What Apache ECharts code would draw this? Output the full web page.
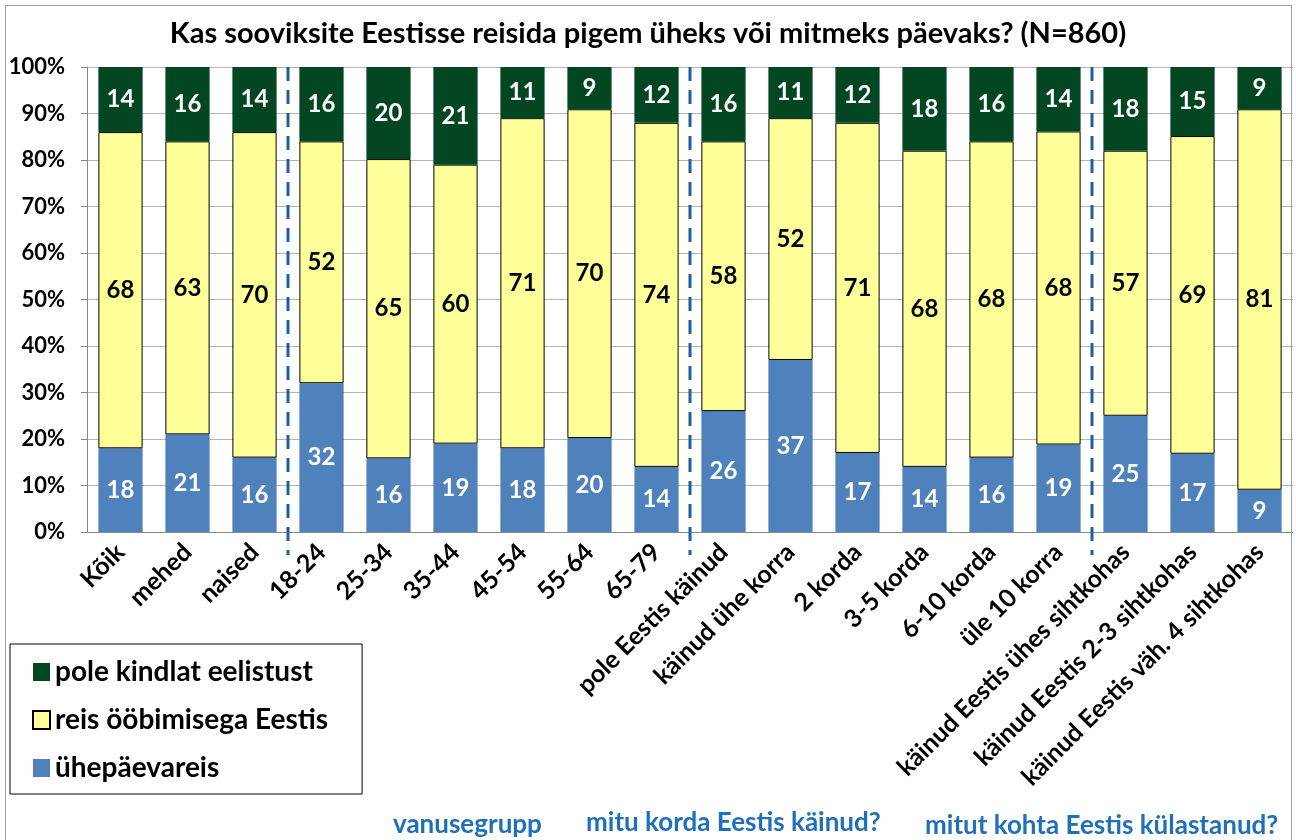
<!DOCTYPE html>
<html>
<head>
<meta charset="utf-8">
<script src="https://cdn.jsdelivr.net/npm/echarts@6/dist/echarts.min.js"></script>
<style>
  html, body { margin: 0; padding: 0; background: #fff; }
  #chart { width: 1296px; height: 840px; }
  #frame { position: absolute; left: 5px; top: 5px; width: 1287px; height: 850px;
           border: 1px solid #a0a0a0; box-sizing: border-box; pointer-events: none; }
</style>
</head>
<body>
<div id="chart"></div>
<div id="frame"></div>
<script>
const categories = [
  "Kõik", "mehed", "naised",
  "18-24", "25-34", "35-44", "45-54", "55-64", "65-79",
  "pole Eestis käinud", "käinud ühe korra", "2 korda", "3-5 korda", "6-10 korda", "üle 10 korra",
  "käinud Eestis ühes sihtkohas", "käinud Eestis 2-3 sihtkohas", "käinud Eestis väh. 4 sihtkohas"
];
// ühepäevareis
const dayTrip = [18, 21, 16, 32, 16, 19, 18, 20, 14, 26, 37, 17, 14, 16, 19, 25, 17, 9];
// reis ööbimisega Eestis
const overnight = [68, 63, 70, 52, 65, 60, 71, 70, 74, 58, 52, 71, 68, 68, 68, 57, 69, 81];
// pole kindlat eelistust
const noPref = [14, 16, 14, 16, 20, 21, 11, 9, 12, 16, 11, 12, 18, 16, 14, 18, 15, 9];

// dashed separators sit between these category indexes
const groupBreaks = [3, 9, 15];
const groupNames = ["vanusegrupp", "mitu korda Eestis käinud?", "mitut kohta Eestis külastanud?"];

const FONT = "Lato";

// 100% stacked, like the original spreadsheet chart
const totals = categories.map((c, i) => dayTrip[i] + overnight[i] + noPref[i]);
const share = arr => arr.map((v, i) => v / totals[i] * 100);

function makeSeries(name, raw, color, textColor, border) {
  return {
    name: name,
    type: "bar",
    stack: "all",
    barWidth: "66%",
    data: share(raw),
    itemStyle: {
      color: color,
      borderColor: border ? "#000" : color,
      borderWidth: border ? 1 : 0
    },
    label: {
      show: true,
      position: "inside",
      color: textColor,
      fontFamily: FONT,
      fontWeight: "bold",
      fontSize: 24,
      formatter: p => raw[p.dataIndex]
    }
  };
}

const chart = echarts.init(document.getElementById("chart"));
chart.setOption({
  animation: false,
  title: {
    text: "Kas sooviksite Eestisse reisida pigem üheks või mitmeks päevaks? (N=860)",
    left: "center",
    top: 14,
    textStyle: { fontFamily: FONT, fontWeight: "bold", fontSize: 29, color: "#000" }
  },
  legend: {
    data: ["pole kindlat eelistust", "reis ööbimisega Eestis", "ühepäevareis"],
    orient: "vertical",
    icon: "rect",
    left: 10,
    top: 644,
    itemWidth: 17,
    itemHeight: 18,
    itemGap: 20,
    padding: [14, 34, 12, 22],
    borderColor: "#000",
    borderWidth: 1,
    textStyle: { fontFamily: FONT, fontWeight: "bold", fontSize: 28, color: "#000" }
  },
  grid: { left: 87, right: 3, top: 67, bottom: 308 },
  xAxis: [
    {
      type: "category",
      data: categories,
      axisLine: { lineStyle: { color: "#888" } },
      axisTick: { length: 8, lineStyle: { color: "#888" } },
      axisLabel: {
        interval: 0,
        rotate: 45,
        margin: 16,
        color: "#000",
        fontFamily: FONT,
        fontWeight: "bold",
        fontSize: 25
      }
    },
    { type: "value", min: 0, max: categories.length, show: false }
  ],
  yAxis: {
    type: "value",
    min: 0,
    max: 100,
    interval: 10,
    axisLine: { show: true, lineStyle: { color: "#888" } },
    axisTick: { show: true, length: 6, lineStyle: { color: "#888" } },
    splitLine: { lineStyle: { color: "#b5b5b5", width: 1 } },
    axisLabel: {
      formatter: "{value}%",
      color: "#000",
      fontFamily: FONT,
      fontWeight: "bold",
      fontSize: 22,
      margin: 22
    }
  },
  series: [
    makeSeries("ühepäevareis", dayTrip, "#4F81BD", "#fff", false),
    makeSeries("reis ööbimisega Eestis", overnight, "#FFFF99", "#000", true),
    makeSeries("pole kindlat eelistust", noPref, "#034722", "#fff", false),
    {
      // dashed group separators, drawn through the hidden value x axis
      type: "custom",
      xAxisIndex: 1,
      silent: true,
      clip: false,
      z: 5,
      data: groupBreaks.map(b => [b, 100]),
      encode: { x: 0, y: 1 },
      renderItem: (params, api) => {
        const top = api.coord([api.value(0), 100]);
        const base = api.coord([api.value(0), 0]);
        return {
          type: "line",
          shape: { x1: top[0], y1: top[1], x2: base[0], y2: base[1] + 23 },
          style: { stroke: "#1F5F9E", lineWidth: 3, lineDash: [14, 9] }
        };
      }
    }
  ],
  graphic: [
    { type: "text", left: 393, top: 812, style: { text: groupNames[0], fill: "#1F6FB9", font: "bold 26px " + FONT } },
    { type: "text", left: 586, top: 810, style: { text: groupNames[1], fill: "#1F6FB9", font: "bold 26px " + FONT } },
    { type: "text", left: 925, top: 813, style: { text: groupNames[2], fill: "#1F6FB9", font: "bold 26px " + FONT } }
  ]
});
</script>
</body>
</html>
